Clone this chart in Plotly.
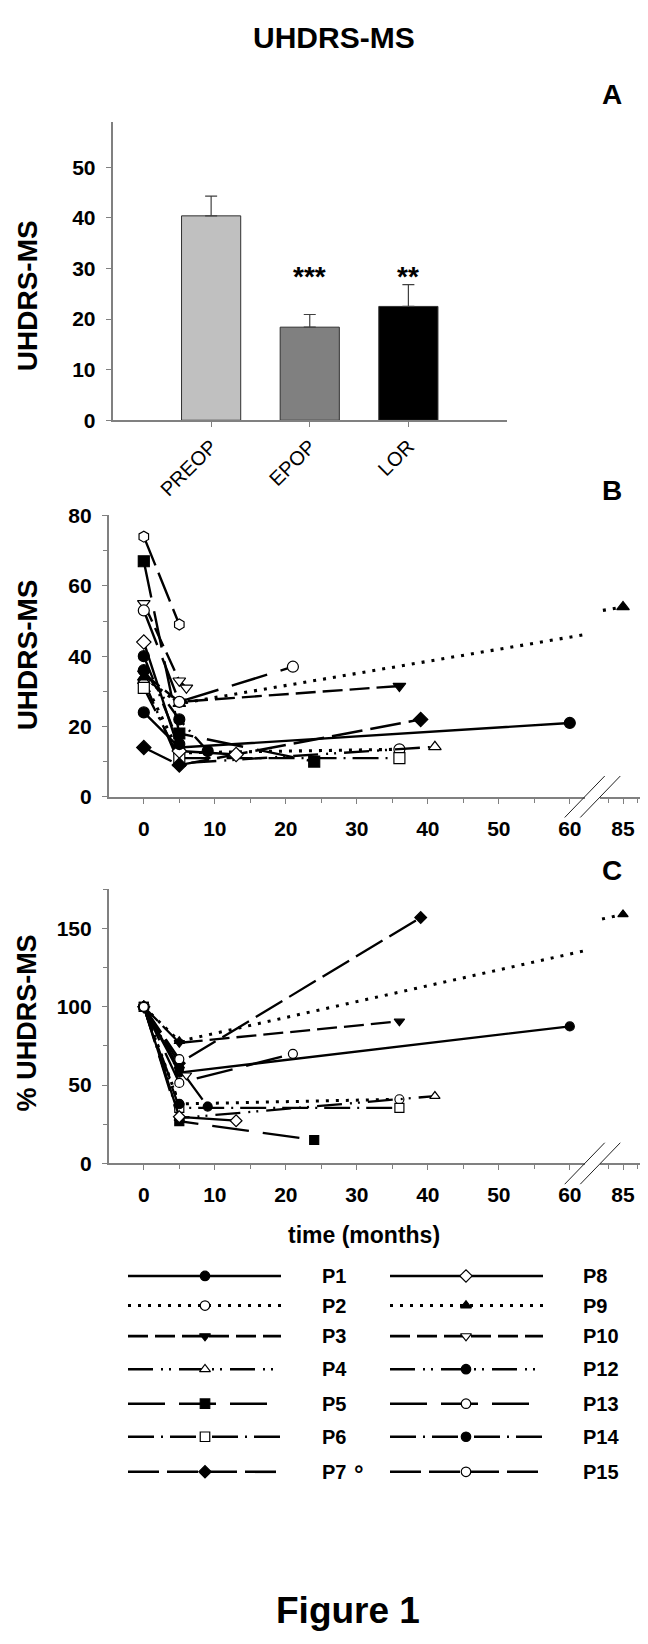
import plotly.graph_objects as go

W, H = 648, 1644
FONT = "Liberation Sans, Arial, Helvetica, sans-serif"

# ---------------- Panel A data ----------------
groups = ["PREOP", "EPOP", "LOR"]
group_means = [40.4, 18.4, 22.5]
group_sem = [3.9, 2.5, 4.3]
group_colors = ["#c0c0c0", "#808080", "#000000"]
group_sig = ["", "***", "**"]
sig_level = 28.5

# ---------------- Panels B / C data (per patient) ----------------
P1_T, P1_MS, P1_PCT = [0, 5, 60], [24, 14, 21], [100, 58, 87.5]
P2_T, P2_MS, P2_PCT = [0, 5, 36], [33, 12.5, 13.5], [100, 38, 41]
P3_T, P3_MS, P3_PCT = [0, 5, 36], [35, 27, 31.5], [100, 77, 90.7]
P4_T, P4_MS, P4_PCT = [0, 5, 41], [33, 9.5, 14.2], [100, 29, 43]
P5_T, P5_MS, P5_PCT = [0, 5, 24], [67, 18, 10], [100, 27, 15]
P6_T, P6_MS, P6_PCT = [0, 5, 36], [31, 11, 11], [100, 35.5, 35.5]
P7_T, P7_MS, P7_PCT = [0, 5, 39], [14, 9, 22], [100, 64, 157]
P8_T, P8_MS, P8_PCT = [0, 5, 13], [44, 13, 12], [100, 29.8, 27.3]
P9_T, P9_MS, P9_PCT = [0, 5, 85], [34, 26.5, 54], [100, 78, 159]
P10_T, P10_MS, P10_PCT = [0, 5, 6], [55, 33, 31], [100, 60, 56.3]
P12_T, P12_MS, P12_PCT = [0, 5], [40, 15], [100, 37.8]
P13_T, P13_MS, P13_PCT = [0, 5, 21], [53, 27, 37], [100, 51.4, 70]
P14_T, P14_MS, P14_PCT = [0, 5, 9], [36, 22, 13], [100, 61, 36.3]
P15_T, P15_MS, P15_PCT = [0, 5], [74, 49], [100, 66.6]

x_ticks = [0, 10, 20, 30, 40, 50, 60]
x_break_ticks = [85]

# styles
SOLID = "solid"
DOT = "3px,7px"
DASH = "20px,7px"
DASHDOTDOT = "25px,8px,2px,6px,2px,8px"
LONGDASH = "37px,14px"
DASHDOT = "26px,7px,2px,7px"
MEDLONG = "31px,8px"

series = [
    ("P1", P1_T, P1_MS, P1_PCT, SOLID, "circle", True),
    ("P2", P2_T, P2_MS, P2_PCT, DOT, "circle", False),
    ("P3", P3_T, P3_MS, P3_PCT, DASH, "triangle-down", True),
    ("P4", P4_T, P4_MS, P4_PCT, DASHDOTDOT, "triangle-up", False),
    ("P5", P5_T, P5_MS, P5_PCT, LONGDASH, "square", True),
    ("P6", P6_T, P6_MS, P6_PCT, DASHDOT, "square", False),
    ("P7", P7_T, P7_MS, P7_PCT, MEDLONG, "diamond", True),
    ("P8", P8_T, P8_MS, P8_PCT, SOLID, "diamond", False),
    ("P9", P9_T, P9_MS, P9_PCT, DOT, "triangle-up", True),
    ("P10", P10_T, P10_MS, P10_PCT, DASH, "triangle-down", False),
    ("P12", P12_T, P12_MS, P12_PCT, DASHDOTDOT, "circle", True),
    ("P13", P13_T, P13_MS, P13_PCT, LONGDASH, "circle", False),
    ("P14", P14_T, P14_MS, P14_PCT, DASHDOT, "circle", True),
    ("P15", P15_T, P15_MS, P15_PCT, MEDLONG, "circle", False),
]
b_symbol_override = {"P15": "hexagon"}

# ---------------- layout geometry (pixels) ----------------
def fx(px):
    return px / W

def fy(py):
    return 1 - py / H

X0_PX = 135.8
PPM = 7.1  # px per month
LEFT_RANGE = [-4.95, 62.1]
RIGHT_RANGE = [81.8, 88.3]
X85_PX = 615.0
left_dom = [fx(X0_PX + LEFT_RANGE[0] * PPM), fx(X0_PX + LEFT_RANGE[1] * PPM)]
right_dom = [fx(X85_PX + (RIGHT_RANGE[0] - 85) * PPM), fx(X85_PX + (RIGHT_RANGE[1] - 85) * PPM)]

A_X_DOM = [fx(104.5), fx(499.0)]
A_Y_RANGE = [0, 59]
A_Y_DOM = [fy(406.7), fy(406.7 - 59 * 5.128)]
B_Y_RANGE = [0, 80.3]
B_Y_DOM = [fy(788.3), fy(788.3 - 80.3 * 3.5625)]
C_Y_RANGE = [0, 175]
C_Y_DOM = [fy(1160.0), fy(1160.0 - 175 * 1.588)]

GRAY = "#808080"
tickfont = dict(family=FONT, size=21, color="black", weight="bold")

def base_axis(**kw):
    d = dict(showline=True, linecolor=GRAY, linewidth=1.5, ticks="outside",
             tickcolor=GRAY, tickwidth=1.3, ticklen=5, showgrid=False,
             zeroline=False, tickfont=tickfont, fixedrange=True)
    d.update(kw)
    return d

fig = go.Figure()

# ---------------- Panel A ----------------
fig.add_trace(go.Bar(
    x=list(range(len(groups))), y=group_means, width=0.6,
    marker=dict(color=group_colors, line=dict(color="#303030", width=1)),
    error_y=dict(type="data", array=group_sem, arrayminus=[0] * len(groups),
                 symmetric=False, color="#404040", thickness=1.2, width=6),
    xaxis="x", yaxis="y", showlegend=False,
))

# ---------------- Panels B and C ----------------
def add_patient_traces(ycol, xl, xr, yax, msize, lw, use_override):
    for name, t, ms, pct, dash, sym, filled in series:
        vals = ms if ycol == "ms" else pct
        s = b_symbol_override.get(name, sym) if use_override else sym
        w = lw + 0.7 if dash == DOT else lw
        for xa in (xl, xr):
            fig.add_trace(go.Scatter(
                x=t, y=vals, mode="lines+markers", xaxis=xa, yaxis=yax,
                line=dict(color="black", width=w, dash=dash),
                marker=dict(symbol=s, size=msize,
                            color="black" if filled else "white",
                            line=dict(color="black", width=1.2)),
                showlegend=False, name=name,
            ))

add_patient_traces("ms", "x2", "x3", "y2", 11, 2.4, True)
add_patient_traces("pct", "x4", "x5", "y3", 9, 2.3, False)

# ---------------- Legend (drawn manually on an overlay pixel axis) ----------------
leg_rows = [1274, 1304, 1335, 1368.5, 1403.5, 1437, 1472.5]
leg_cols = [(120, 273, 197, 312), (382, 535, 458, 573)]
for i, (name, t, ms, pct, dash, sym, filled) in enumerate(series):
    col = leg_cols[0] if i < 7 else leg_cols[1]
    ry = leg_rows[i % 7]
    fig.add_trace(go.Scatter(
        x=[col[0], col[1]], y=[ry, ry], mode="lines", xaxis="x6", yaxis="y4",
        line=dict(color="black", width=3.0 if dash == DOT else 2.6, dash=dash),
        showlegend=False, cliponaxis=False, hoverinfo="skip"))
    fig.add_trace(go.Scatter(
        x=[col[2]], y=[ry], mode="markers", xaxis="x6", yaxis="y4",
        marker=dict(symbol=sym, size=9.5, color="black" if filled else "white",
                    line=dict(color="black", width=1.2)),
        showlegend=False, cliponaxis=False, hoverinfo="skip"))

annotations = []
for i, (name, *_rest) in enumerate(series):
    col = leg_cols[0] if i < 7 else leg_cols[1]
    ry = leg_rows[i % 7]
    annotations.append(dict(text=name, x=fx(col[3]), y=fy(ry), xref="paper", yref="paper",
                            xanchor="left", yanchor="middle", showarrow=False,
                            font=dict(family=FONT, size=20, color="black", weight="bold")))
annotations.append(dict(text="°", x=fx(344), y=fy(1474), xref="paper", yref="paper",
                        xanchor="left", yanchor="middle", showarrow=False,
                        font=dict(family=FONT, size=24, color="black", weight="bold")))

# titles & labels
def ann(text, xpx, ypx, size, angle=0, weight="bold"):
    return dict(text=text, x=fx(xpx), y=fy(ypx), xref="paper", yref="paper",
                xanchor="center", yanchor="middle", showarrow=False, textangle=angle,
                font=dict(family=FONT, size=size, color="black", weight=weight))

annotations += [
    ann("UHDRS-MS", 326, 19, 30),
    ann("A", 604, 77, 28),
    ann("B", 604, 478, 28),
    ann("C", 604, 863, 28),
    ann("UHDRS-MS", 19, 281, 28, -90),
    ann("UHDRS-MS", 19, 645, 28, -90),
    ann("% UHDRS-MS", 19, 1018, 27, -90),
    ann("time (months)", 356, 1232, 23),
    ann("Figure 1", 340, 1613, 37),
]
for i, s in enumerate(group_sig):
    if s:
        annotations.append(dict(text=s, x=i, y=sig_level, xref="x", yref="y",
                                xanchor="center", yanchor="middle", showarrow=False,
                                font=dict(family=FONT, size=28, color="black", weight="bold")))

# axis break marks
shapes = []
for axis_y in (788.3, 1160.0):
    for cx in (X0_PX + LEFT_RANGE[1] * PPM, X85_PX + (RIGHT_RANGE[0] - 85) * PPM):
        shapes.append(dict(type="line", xref="paper", yref="paper",
                           x0=fx(cx - 20), y0=fy(axis_y + 21), x1=fx(cx + 20), y1=fy(axis_y - 21),
                           line=dict(color="#202020", width=1)))

fig.update_layout(
    width=W, height=H, autosize=False,
    margin=dict(l=0, r=0, t=0, b=0),
    paper_bgcolor="white", plot_bgcolor="rgba(0,0,0,0)",
    showlegend=False,
    annotations=annotations, shapes=shapes,
    # Panel A
    xaxis=base_axis(domain=A_X_DOM, anchor="y", range=[-1, 3], tickmode="array",
                    tickvals=list(range(len(groups))), ticktext=groups, tickangle=-45,
                    tickfont=dict(family=FONT, size=20, color="black")),
    yaxis=base_axis(domain=A_Y_DOM, anchor="x", range=A_Y_RANGE, tick0=0, dtick=10,
                    ticklabelstandoff=6),
    # Panel B
    xaxis2=base_axis(domain=left_dom, anchor="y2", range=LEFT_RANGE, tickmode="array",
                     tickvals=x_ticks, ticklabelstandoff=7,
                     minor=dict(ticks="outside", tickmode="linear", tick0=0, dtick=5,
                                ticklen=4, tickcolor=GRAY, tickwidth=1.3)),
    xaxis3=base_axis(domain=right_dom, anchor="y2", range=RIGHT_RANGE, tickmode="array",
                     tickvals=x_break_ticks, ticklabelstandoff=7,
                     minor=dict(ticks="outside", tickmode="array", tickvals=[83, 87],
                                ticklen=4, tickcolor=GRAY, tickwidth=1.3)),
    yaxis2=base_axis(domain=B_Y_DOM, anchor="x2", range=B_Y_RANGE, tick0=0, dtick=20,
                     ticklabelstandoff=6,
                     minor=dict(ticks="outside", tick0=0, dtick=10, ticklen=4,
                                tickcolor=GRAY, tickwidth=1.3)),
    # Panel C
    xaxis4=base_axis(domain=left_dom, anchor="y3", range=LEFT_RANGE, tickmode="array",
                     tickvals=x_ticks, ticklabelstandoff=7,
                     minor=dict(ticks="outside", tickmode="linear", tick0=0, dtick=5,
                                ticklen=4, tickcolor=GRAY, tickwidth=1.3)),
    xaxis5=base_axis(domain=right_dom, anchor="y3", range=RIGHT_RANGE, tickmode="array",
                     tickvals=x_break_ticks, ticklabelstandoff=7,
                     minor=dict(ticks="outside", tickmode="array", tickvals=[83, 87],
                                ticklen=4, tickcolor=GRAY, tickwidth=1.3)),
    yaxis3=base_axis(domain=C_Y_DOM, anchor="x4", range=C_Y_RANGE, tick0=0, dtick=50,
                     ticklabelstandoff=6,
                     minor=dict(ticks="outside", tick0=0, dtick=25, ticklen=4,
                                tickcolor=GRAY, tickwidth=1.3)),
    # overlay pixel axes for the legend
    xaxis6=dict(domain=[0, 1], range=[0, W], visible=False, fixedrange=True, anchor="y4"),
    yaxis4=dict(domain=[0, 1], range=[H, 0], visible=False, fixedrange=True, anchor="x6"),
)

fig.write_html("out.html")
